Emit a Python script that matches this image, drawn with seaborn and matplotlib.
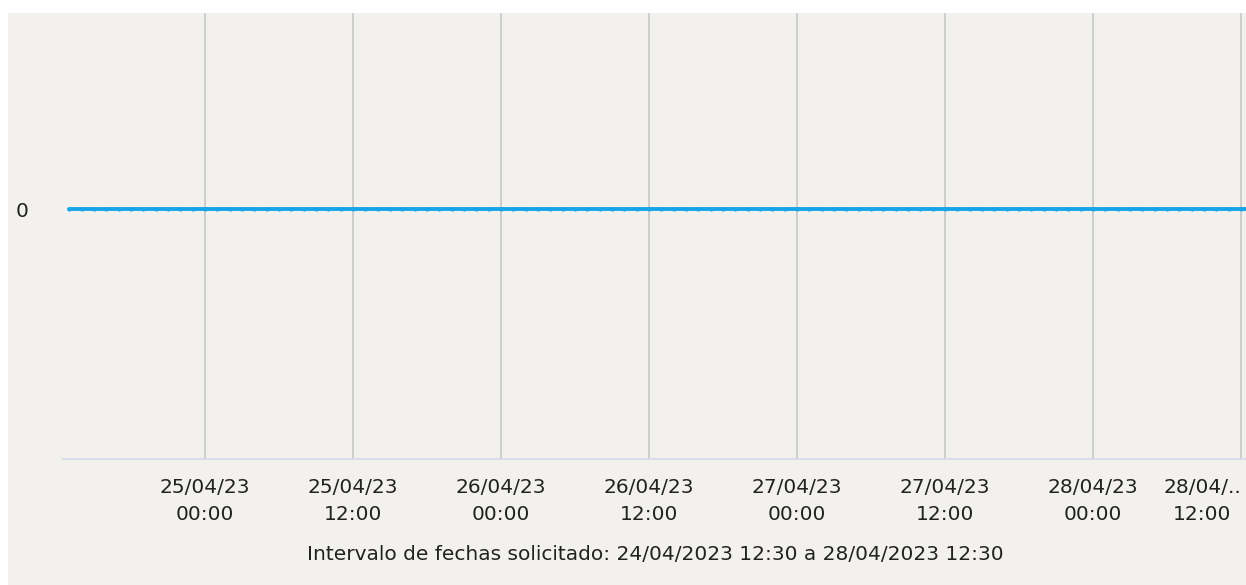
import pandas as pd
import seaborn as sns
import matplotlib.pyplot as plt
from matplotlib.patches import Rectangle

# hourly readings, all zero for the requested interval
times = pd.date_range("2023-04-24 13:00", "2023-04-28 13:00", freq="h")
values = [0] * len(times)

tick_times = pd.date_range("2023-04-25 00:00", "2023-04-28 12:00", freq="12h")
tick_labels = ["25/04/23\n00:00", "25/04/23\n12:00", "26/04/23\n00:00", "26/04/23\n12:00",
               "27/04/23\n00:00", "27/04/23\n12:00", "28/04/23\n00:00", "28/04/..\n12:00"]
x_start = pd.Timestamp("2023-04-24 12:30")
x_end = pd.Timestamp("2023-04-28 12:30")
caption = "Intervalo de fechas solicitado: 24/04/2023 12:30 a 28/04/2023 12:30"

bg = "#f2f1ee"
sns.set_theme(style="white")
plt.rcParams["font.family"] = ["DejaVu Sans"]

fig = plt.figure(figsize=(12.46, 5.85), dpi=100)
fig.patch.set_facecolor("white")
fig.patches.append(Rectangle((8 / 1246, 0), 1, (585 - 13) / 585, transform=fig.transFigure,
                             facecolor=bg, edgecolor="none", zorder=-10))

ax = fig.add_axes([63 / 1246, 126 / 585, 1184 / 1246, 446 / 585])
ax.set_facecolor(bg)

df = pd.DataFrame({"time": times, "value": values})
sns.lineplot(data=df, x="time", y="value", ax=ax, color="#18a4e8", linewidth=2.8,
             marker="o", markersize=3, markeredgewidth=0, zorder=3)

ax.set_xlim(x_start, x_end)
ax.set_ylim(-0.56, 0.44)
ax.set_xlabel("")
ax.set_ylabel("")

ax.set_xticks(tick_times)
ax.set_xticklabels(tick_labels, fontsize=14.5, color="#222222", linespacing=1.5)
ax.set_yticks([0])
ax.set_yticklabels(["0"], fontsize=14.5, color="#222222")

# last label is squeezed against the right edge
last = ax.get_xticklabels()[-1]
last.set_horizontalalignment("right")
last.set_multialignment("center")

ax.tick_params(axis="x", direction="out", length=12, width=1.2, color="#d3dbe8", pad=2)
ax.tick_params(axis="y", direction="out", length=4, width=1.2, color="#c8c8c8", pad=21)
ax.grid(axis="x", color="#c8c8c8", linewidth=1.2)
ax.grid(axis="y", visible=False)

for side in ["top", "right", "left"]:
    ax.spines[side].set_visible(False)
ax.spines["bottom"].set_color("#d3dbe8")
ax.spines["bottom"].set_linewidth(1.2)

fig.text(655 / 1246, 31 / 585, caption, ha="center", va="center", fontsize=14.5, color="#222222")

fig.savefig("out.png", dpi=100, facecolor="white")
